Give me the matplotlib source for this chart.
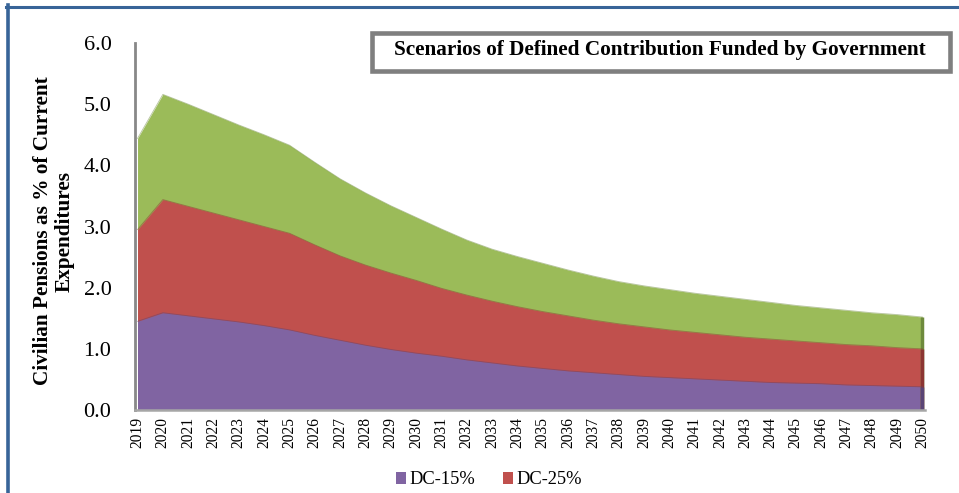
import matplotlib
matplotlib.use("Agg")
import matplotlib.pyplot as plt
from matplotlib.patches import Rectangle
from matplotlib.lines import Line2D

years = list(range(2019, 2051))

dc15 = [1.45, 1.59, 1.54, 1.49, 1.44, 1.38, 1.31, 1.22, 1.14, 1.06, 0.99, 0.93,
        0.88, 0.82, 0.77, 0.72, 0.68, 0.64, 0.61, 0.58, 0.55, 0.53, 0.51, 0.49,
        0.47, 0.45, 0.44, 0.43, 0.41, 0.40, 0.39, 0.38]
dc25 = [2.95, 3.44, 3.33, 3.22, 3.11, 3.00, 2.89, 2.70, 2.52, 2.37, 2.24, 2.12,
        1.99, 1.88, 1.78, 1.69, 1.61, 1.54, 1.47, 1.41, 1.36, 1.31, 1.27, 1.23,
        1.19, 1.16, 1.13, 1.10, 1.07, 1.05, 1.02, 1.00]
dc35 = [4.44, 5.16, 5.00, 4.83, 4.66, 4.50, 4.33, 4.05, 3.78, 3.55, 3.34, 3.15,
        2.96, 2.78, 2.63, 2.51, 2.40, 2.29, 2.19, 2.10, 2.03, 1.97, 1.91, 1.86,
        1.81, 1.76, 1.71, 1.67, 1.63, 1.59, 1.56, 1.52]

series = [("DC-35%", dc35, "#9BBB59", "#6E8A3C"),
          ("DC-25%", dc25, "#C0504D", "#8C3532"),
          ("DC-15%", dc15, "#8064A2", "#5A4475")]

plt.rcParams["font.family"] = ["Liberation Serif", "DejaVu Serif"]

fig = plt.figure(figsize=(9.59, 4.93), dpi=100)
ax = fig.add_axes([135 / 959, 83 / 493, 790 / 959, 367 / 493])

handles = {}
for name, vals, col, dark in series:
    h = ax.fill_between(years, 0, vals, color=col, lw=0, label=name)
    ax.plot(years, vals, color=dark, lw=0.6, alpha=0.5)
    ax.vlines(years[-1], 0, vals[-1], color=dark, lw=2.5)
    handles[name] = h

ax.set_xlim(2018.9, 2050.1)
ax.set_ylim(0, 6)
ax.set_yticks([0, 1, 2, 3, 4, 5, 6])
ax.set_yticklabels([f"{v:.1f}" for v in range(7)], fontsize=16)
ax.set_xticks(years)
ax.set_xticklabels([str(y) for y in years], rotation=90, fontsize=11.2)
ax.tick_params(axis="y", length=0, pad=17)
ax.tick_params(axis="x", length=0, pad=5)

for s in ["top", "right"]:
    ax.spines[s].set_visible(False)
ax.spines["left"].set_color("#888888")
ax.spines["left"].set_linewidth(2)
ax.spines["bottom"].set_color("#A6A6A6")
ax.spines["bottom"].set_linewidth(1.8)

fig.text(54 / 959, (493 - 231) / 493,
         "Civilian Pensions as % of Current\nExpenditures",
         rotation=90, ha="center", va="center", ma="center",
         fontsize=15.3, fontweight="bold", linespacing=1.1)

# title box
fig.add_artist(Rectangle((372 / 959, 422 / 493), 578 / 959, 38 / 493,
                         transform=fig.transFigure, facecolor="white",
                         edgecolor="#7F7F7F", lw=3.3))
fig.text(660 / 959, (493 - 50) / 493,
         "Scenarios of Defined Contribution Funded by Government",
         ha="center", va="center", fontsize=15.3, fontweight="bold")

fig.legend([handles["DC-15%"], handles["DC-25%"]], ["DC-15%", "DC-25%"],
           loc="center", bbox_to_anchor=(489 / 959, 13 / 493), ncol=2,
           frameon=False, fontsize=13.3, handlelength=0.55, handleheight=0.55,
           handletextpad=0.2, columnspacing=1.5)

# blue frame on the left and top
fig.add_artist(Line2D([7.5 / 959, 7.5 / 959], [0, (493 - 5) / 493],
                      transform=fig.transFigure, color="#386498", lw=2.6))
fig.add_artist(Line2D([6 / 959, 1], [(493 - 6.5) / 493, (493 - 6.5) / 493],
                      transform=fig.transFigure, color="#386498", lw=2.2))

fig.savefig("out.png", dpi=100)
